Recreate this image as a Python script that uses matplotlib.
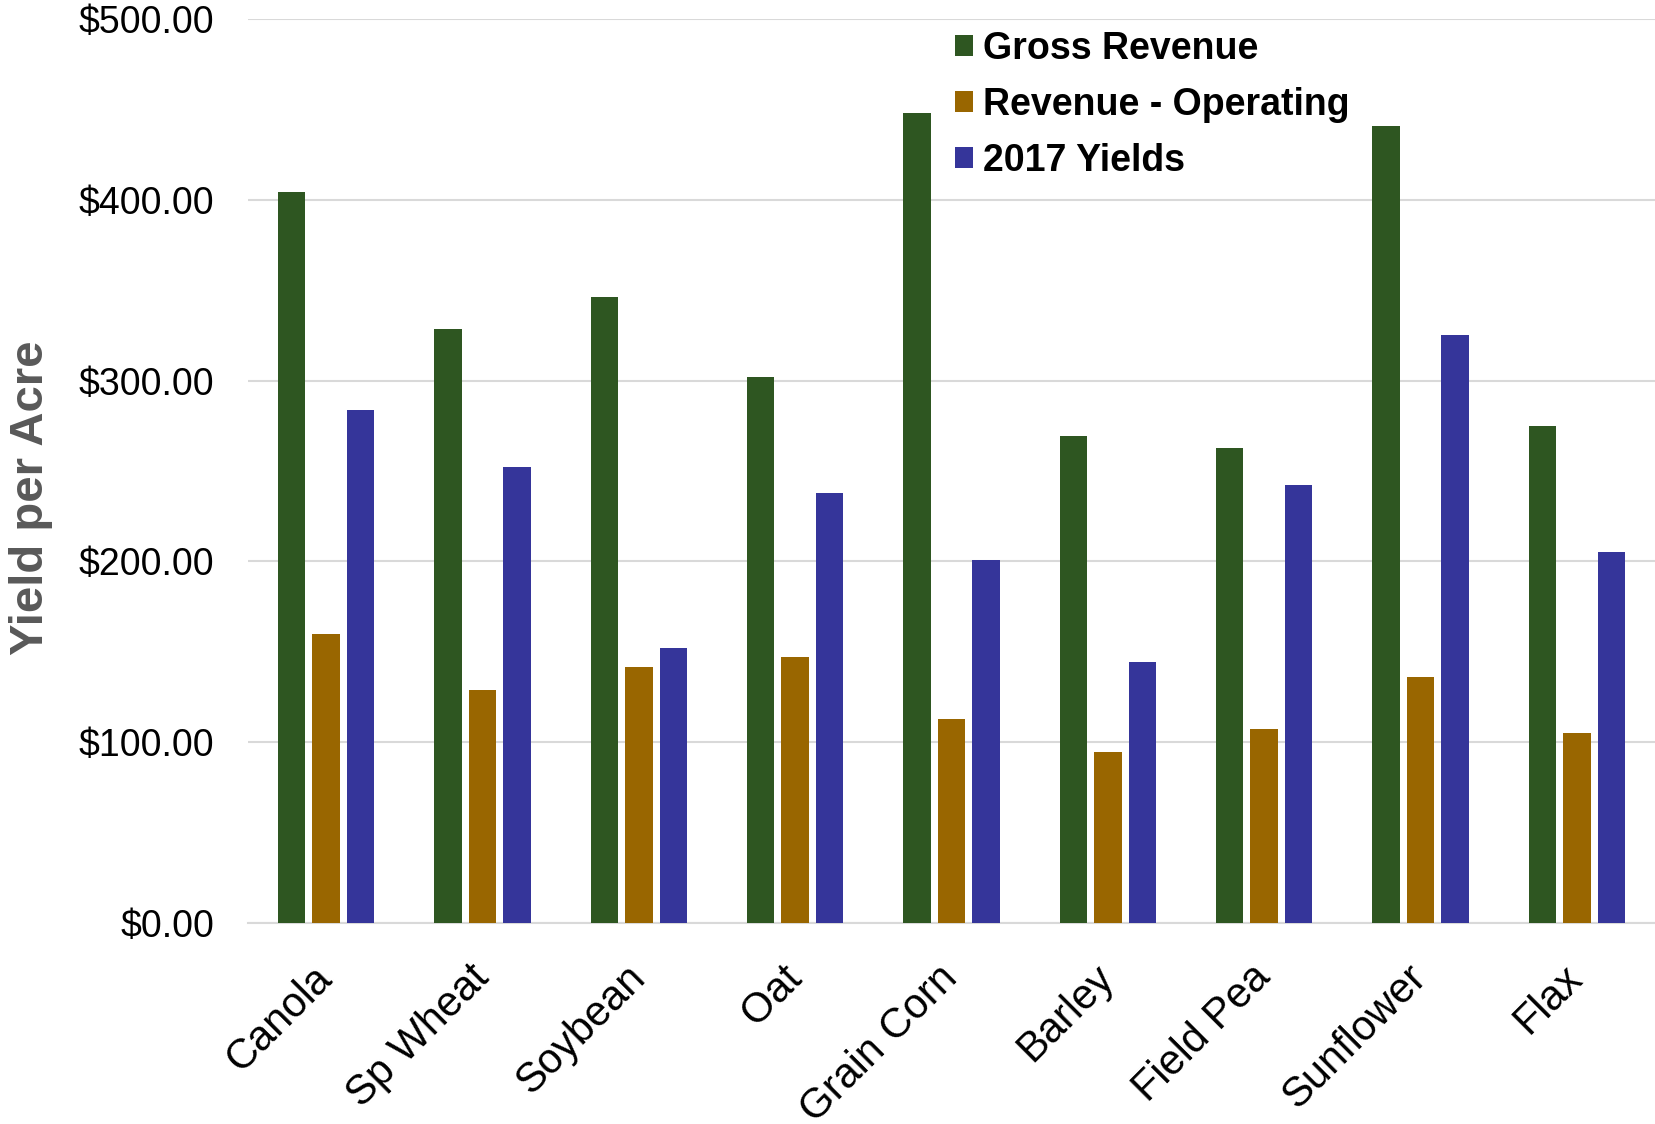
import matplotlib
matplotlib.use('Agg')
import matplotlib.pyplot as plt
import numpy as np
from matplotlib.ticker import FuncFormatter

crops = ['Canola', 'Sp Wheat', 'Soybean', 'Oat', 'Grain Corn', 'Barley',
         'Field Pea', 'Sunflower', 'Flax']
gross_revenue = [404.5, 328.5, 346.0, 302.0, 448.0, 269.5, 262.5, 441.0, 275.0]
revenue_operating = [160.0, 129.0, 141.5, 147.0, 113.0, 94.5, 107.5, 136.0, 105.0]
yields_2017 = [283.5, 252.0, 152.0, 238.0, 201.0, 144.5, 242.0, 325.0, 205.0]

series = [('Gross Revenue', gross_revenue, '#2e5621'),
          ('Revenue - Operating', revenue_operating, '#996600'),
          ('2017 Yields', yields_2017, '#35359a')]

plt.rcParams['font.family'] = ['Liberation Sans', 'DejaVu Sans']

fig = plt.figure(figsize=(16.55, 11.24), dpi=100)
ax = fig.add_axes([248 / 1655, 1 - 923 / 1124, 1 - 248 / 1655, (923 - 19) / 1124])

x = np.arange(len(crops))
width = 0.175
step = 0.221
for i, (name, vals, color) in enumerate(series):
    ax.bar(x + (i - 1) * step, vals, width, color=color, label=name, zorder=3)

ax.set_xlim(-0.5, len(crops) - 0.5)
ax.set_ylim(0, 500)
ax.set_yticks(np.arange(0, 501, 100))
ax.yaxis.set_major_formatter(FuncFormatter(lambda v, p: f'${v:.2f}'))
ax.grid(axis='y', color='#d9d9d9', linewidth=1.5, zorder=0)
for s in ['top', 'right', 'left']:
    ax.spines[s].set_visible(False)
ax.spines['bottom'].set_color('#d9d9d9')
ax.spines['bottom'].set_linewidth(1.5)
ax.tick_params(axis='y', length=0, labelsize=27, pad=24)
ax.tick_params(axis='x', length=0, labelsize=30, pad=35)

ax.set_xticks(x)
ax.set_xticklabels(crops, rotation=45, ha='right', va='center',
                   rotation_mode='anchor')

ax.set_ylabel('Yield per Acre', fontsize=34, fontweight='bold', color='#595959')
ax.yaxis.set_label_coords(-0.1384, 0.47)

ax.legend(loc='upper left', bbox_to_anchor=(955 / 1655, 1 - 31 / 1124),
          bbox_transform=fig.transFigure, frameon=False, borderpad=0,
          borderaxespad=0, prop={'size': 27, 'weight': 'bold'},
          handlelength=0.48, handleheight=0.48, handletextpad=0.27,
          labelspacing=0.53)

plt.savefig('out.png', dpi=100)
plt.close()
